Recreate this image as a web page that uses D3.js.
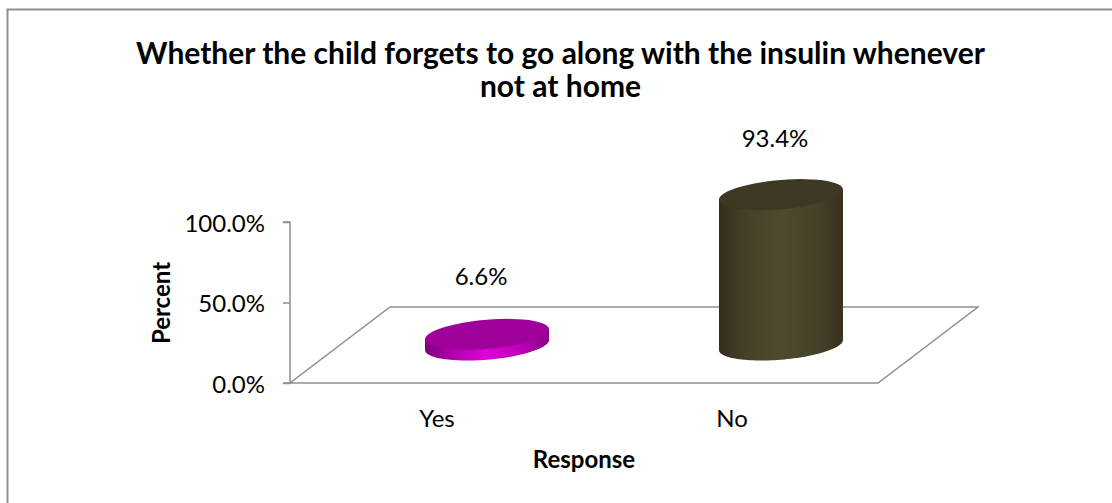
<!DOCTYPE html>
<html><head><meta charset="utf-8">
<script src="https://cdn.jsdelivr.net/npm/d3@7"></script>
<style>html,body{margin:0;padding:0;background:#fff}svg{display:block}text{font-family:Lato,Carlito,sans-serif;fill:#000}</style>
</head><body><svg id="c" width="1112" height="503"></svg>
<script>
const categories = ["Yes", "No"];
const values = [6.6, 93.4];
const valueLabels = ["6.6%", "93.4%"];
const ticks = [0, 50, 100];
const titleLines = ["Whether the child forgets to go along with the insulin whenever", "not at home"];
const sideStops = [["#7f007a","#b800b2","#e000dc","#c000ba","#8a0085"],["#322e1c","#47432a","#4e4a2c","#47432a","#37331f"]];
const topColors = ["#a0009a","#3d3823"];

const svg = d3.select("#c");
const y = d3.scaleLinear().domain([0,100]).range([383,222]);
const x = d3.scaleBand().domain(categories).range([340,928]);
const grey = "#8f8f8f";

svg.append("path").attr("d","M7.5,503V9.5H1112").attr("fill","none").attr("stroke",grey).attr("stroke-width",2);

titleLines.forEach((t,i)=>svg.append("text").attr("x",560.5).attr("y",64+i*33).attr("text-anchor","middle")
  .attr("font-size",30).attr("font-weight",700).text(t));

// floor
const depth = {dx:100, dy:-76};
const fl = d3.line();
svg.append("path").attr("d",fl([[290,y(0)],[878,y(0)],[878+depth.dx,y(0)+depth.dy],[290+depth.dx,y(0)+depth.dy]])+"Z")
  .attr("fill","none").attr("stroke",grey).attr("stroke-width",1.5);

// axis
const axis = d3.axisLeft(y).tickValues(ticks).tickFormat(d=>d3.format(".1f")(d)+"%").tickSize(7).tickPadding(18);
const ag = svg.append("g").attr("transform","translate(290,0)").call(axis);
ag.selectAll("path,line").attr("stroke",grey).attr("stroke-width",1.5);
ag.selectAll("text").attr("font-size",24).attr("font-family","Lato").attr("dy","0.375em");
ag.select(".domain").attr("d","M-7,222H0V383H-7");

const defs = svg.append("defs");
sideStops.forEach((s,i)=>{
  const g = defs.append("linearGradient").attr("id","g"+i);
  s.forEach((c,j)=>g.append("stop").attr("offset",j/(s.length-1)).attr("stop-color",c));
});

const RX=62, RY=14.7, TILT=5, baseY=y(0)-38;
const pts = (cx,cy,a,b)=>d3.range(0,1.0001,1/60).map(k=>{const t=a+(b-a)*k;return [cx+RX*Math.cos(t),cy-TILT*Math.cos(t)+RY*Math.sin(t)];});
const line = d3.line();
categories.forEach((c,i)=>{
  const cx = x(c)+x.bandwidth()/2;
  const h = y(0)-y(values[i]);
  const top = baseY-h;
  const lower = pts(cx,baseY,0,Math.PI);
  const sidePath = [[cx+RX,top-TILT],...lower,[cx-RX,top+TILT]];
  svg.append("path").attr("d",line(sidePath)+"Z").attr("fill","url(#g"+i+")");
  svg.append("path").attr("d",line(pts(cx,top,0,2*Math.PI))+"Z").attr("fill",topColors[i]);
  svg.append("text").attr("x",cx-6).attr("y",top-(i?48:49)).attr("text-anchor","middle").attr("font-size",24).text(valueLabels[i]);
  svg.append("text").attr("x",i?732:437).attr("y",427).attr("text-anchor","middle").attr("font-size",24).text(c);
});

svg.append("text").attr("x",584).attr("y",468).attr("text-anchor","middle").attr("font-size",24).attr("font-weight",700).text("Response");
svg.append("text").attr("transform","translate(169.5,303) rotate(-90)").attr("text-anchor","middle").attr("font-size",24).attr("font-weight",700).text("Percent");
</script></body></html>
